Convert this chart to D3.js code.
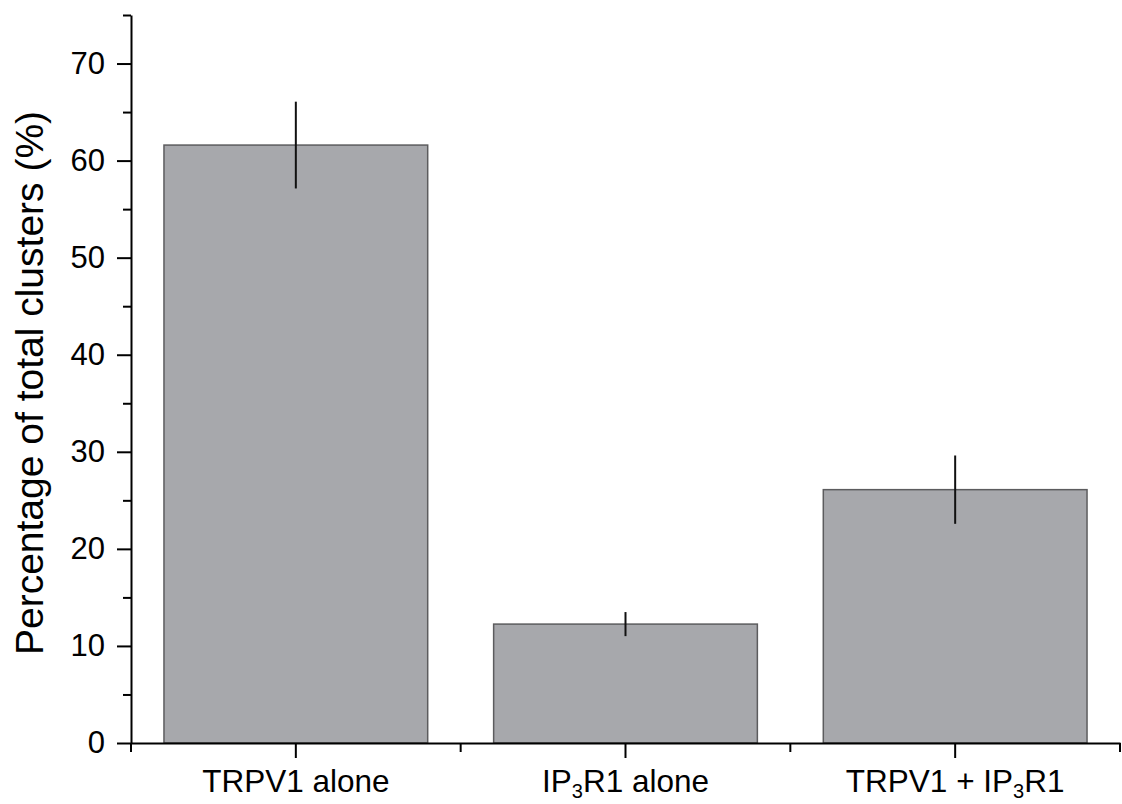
<!DOCTYPE html>
<html>
<head>
<meta charset="utf-8">
<script src="https://cdn.jsdelivr.net/npm/d3@7"></script>
<style>
  html, body { margin: 0; padding: 0; background: #fff; }
  svg { display: block; font-family: "Liberation Sans", Arial, Helvetica, sans-serif; }
</style>
</head>
<body>
<svg id="chart" width="1122" height="804"></svg>
<script>
// Cluster composition: mean percentage of total clusters with error bars
const categories = ["TRPV1 alone", "IP3R1 alone", "TRPV1 + IP3R1"];
const means = [61.6, 12.25, 26.1];
const errors = [4.47, 1.24, 3.52];
const majorTicks = [0, 10, 20, 30, 40, 50, 60, 70];
const minorTicks = [5, 15, 25, 35, 45, 55, 65, 75];

const svg = d3.select("#chart");
const plotLeft = 131, plotRight = 1120, plotTop = 15, plotBottom = 743;

const x = d3.scaleBand()
  .domain(categories)
  .range([plotLeft, plotRight])
  .paddingInner(0.2)
  .paddingOuter(0.1);

const y = d3.scaleLinear()
  .domain([0, 75])
  .range([plotBottom, plotTop]);

// Bars
svg.append("g")
  .selectAll("rect")
  .data(categories)
  .join("rect")
  .attr("x", d => x(d))
  .attr("y", (d, i) => y(means[i]))
  .attr("width", x.bandwidth())
  .attr("height", (d, i) => y(0) - y(means[i]))
  .attr("fill", "#a7a8ac")
  .attr("stroke", "#5c5c5e")
  .attr("stroke-width", 1.5);

// Error bars (vertical only)
svg.append("g")
  .selectAll("line")
  .data(categories)
  .join("line")
  .attr("x1", d => x(d) + x.bandwidth() / 2)
  .attr("x2", d => x(d) + x.bandwidth() / 2)
  .attr("y1", (d, i) => y(means[i] + errors[i]))
  .attr("y2", (d, i) => y(means[i] - errors[i]))
  .attr("stroke", "#111")
  .attr("stroke-width", 2);

// Y axis: major ticks with labels, minor ticks unlabeled
const yMajor = svg.append("g")
  .attr("transform", `translate(${plotLeft},0)`)
  .call(d3.axisLeft(y).tickValues(majorTicks).tickSize(14).tickSizeOuter(0).tickPadding(12));
const yMinor = svg.append("g")
  .attr("transform", `translate(${plotLeft},0)`)
  .call(d3.axisLeft(y).tickValues(minorTicks).tickSize(8).tickSizeOuter(0).tickFormat(""));
yMinor.select(".domain").remove();

// X axis: ticks at category centres plus short ticks at band boundaries
const xAxis = svg.append("g")
  .attr("transform", `translate(0,${plotBottom})`)
  .call(d3.axisBottom(x).tickSize(15).tickSizeOuter(0).tickPadding(12).tickFormat(""));

const step = x.step();
const boundaries = d3.range(categories.length + 1).map(i => x(categories[0]) - x.paddingInner() * step / 2 + i * step);
xAxis.selectAll("line.minor")
  .data(boundaries)
  .join("line")
  .attr("class", "minor")
  .attr("x1", d => d).attr("x2", d => d)
  .attr("y1", 0).attr("y2", 9)
  .attr("stroke", "#000");

// Category labels with subscript 3 in IP3R1
const labelParts = [
  [["TRPV1 alone", false]],
  [["IP", false], ["3", true], ["R1 alone", false]],
  [["TRPV1 + IP", false], ["3", true], ["R1", false]]
];
xAxis.selectAll("text.cat")
  .data(categories)
  .join("text")
  .attr("class", "cat")
  .attr("x", d => x(d) + x.bandwidth() / 2)
  .attr("y", 27)
  .attr("dy", "0.71em")
  .attr("text-anchor", "middle")
  .attr("fill", "#000")
  .style("font-size", "31.5px")
  .each(function(d, i) {
    const t = d3.select(this);
    labelParts[i].forEach(([s, sub], j) => {
      const span = t.append("tspan").text(s);
      if (sub) span.attr("dy", "0.3em").style("font-size", "20px");
      else if (j > 0) span.attr("dy", "-0.19em");
    });
  });

svg.selectAll(".domain, .tick line").attr("stroke", "#000").attr("stroke-width", 2);
xAxis.selectAll("line.minor").attr("stroke-width", 2);
yMajor.selectAll(".tick text").style("font-size", "31px").attr("fill", "#000");

// Y axis title
svg.append("text")
  .attr("transform", "translate(43,383) rotate(-90)")
  .attr("text-anchor", "middle")
  .style("font-size", "39px")
  .attr("fill", "#000")
  .text("Percentage of total clusters (%)");
</script>
</body>
</html>
